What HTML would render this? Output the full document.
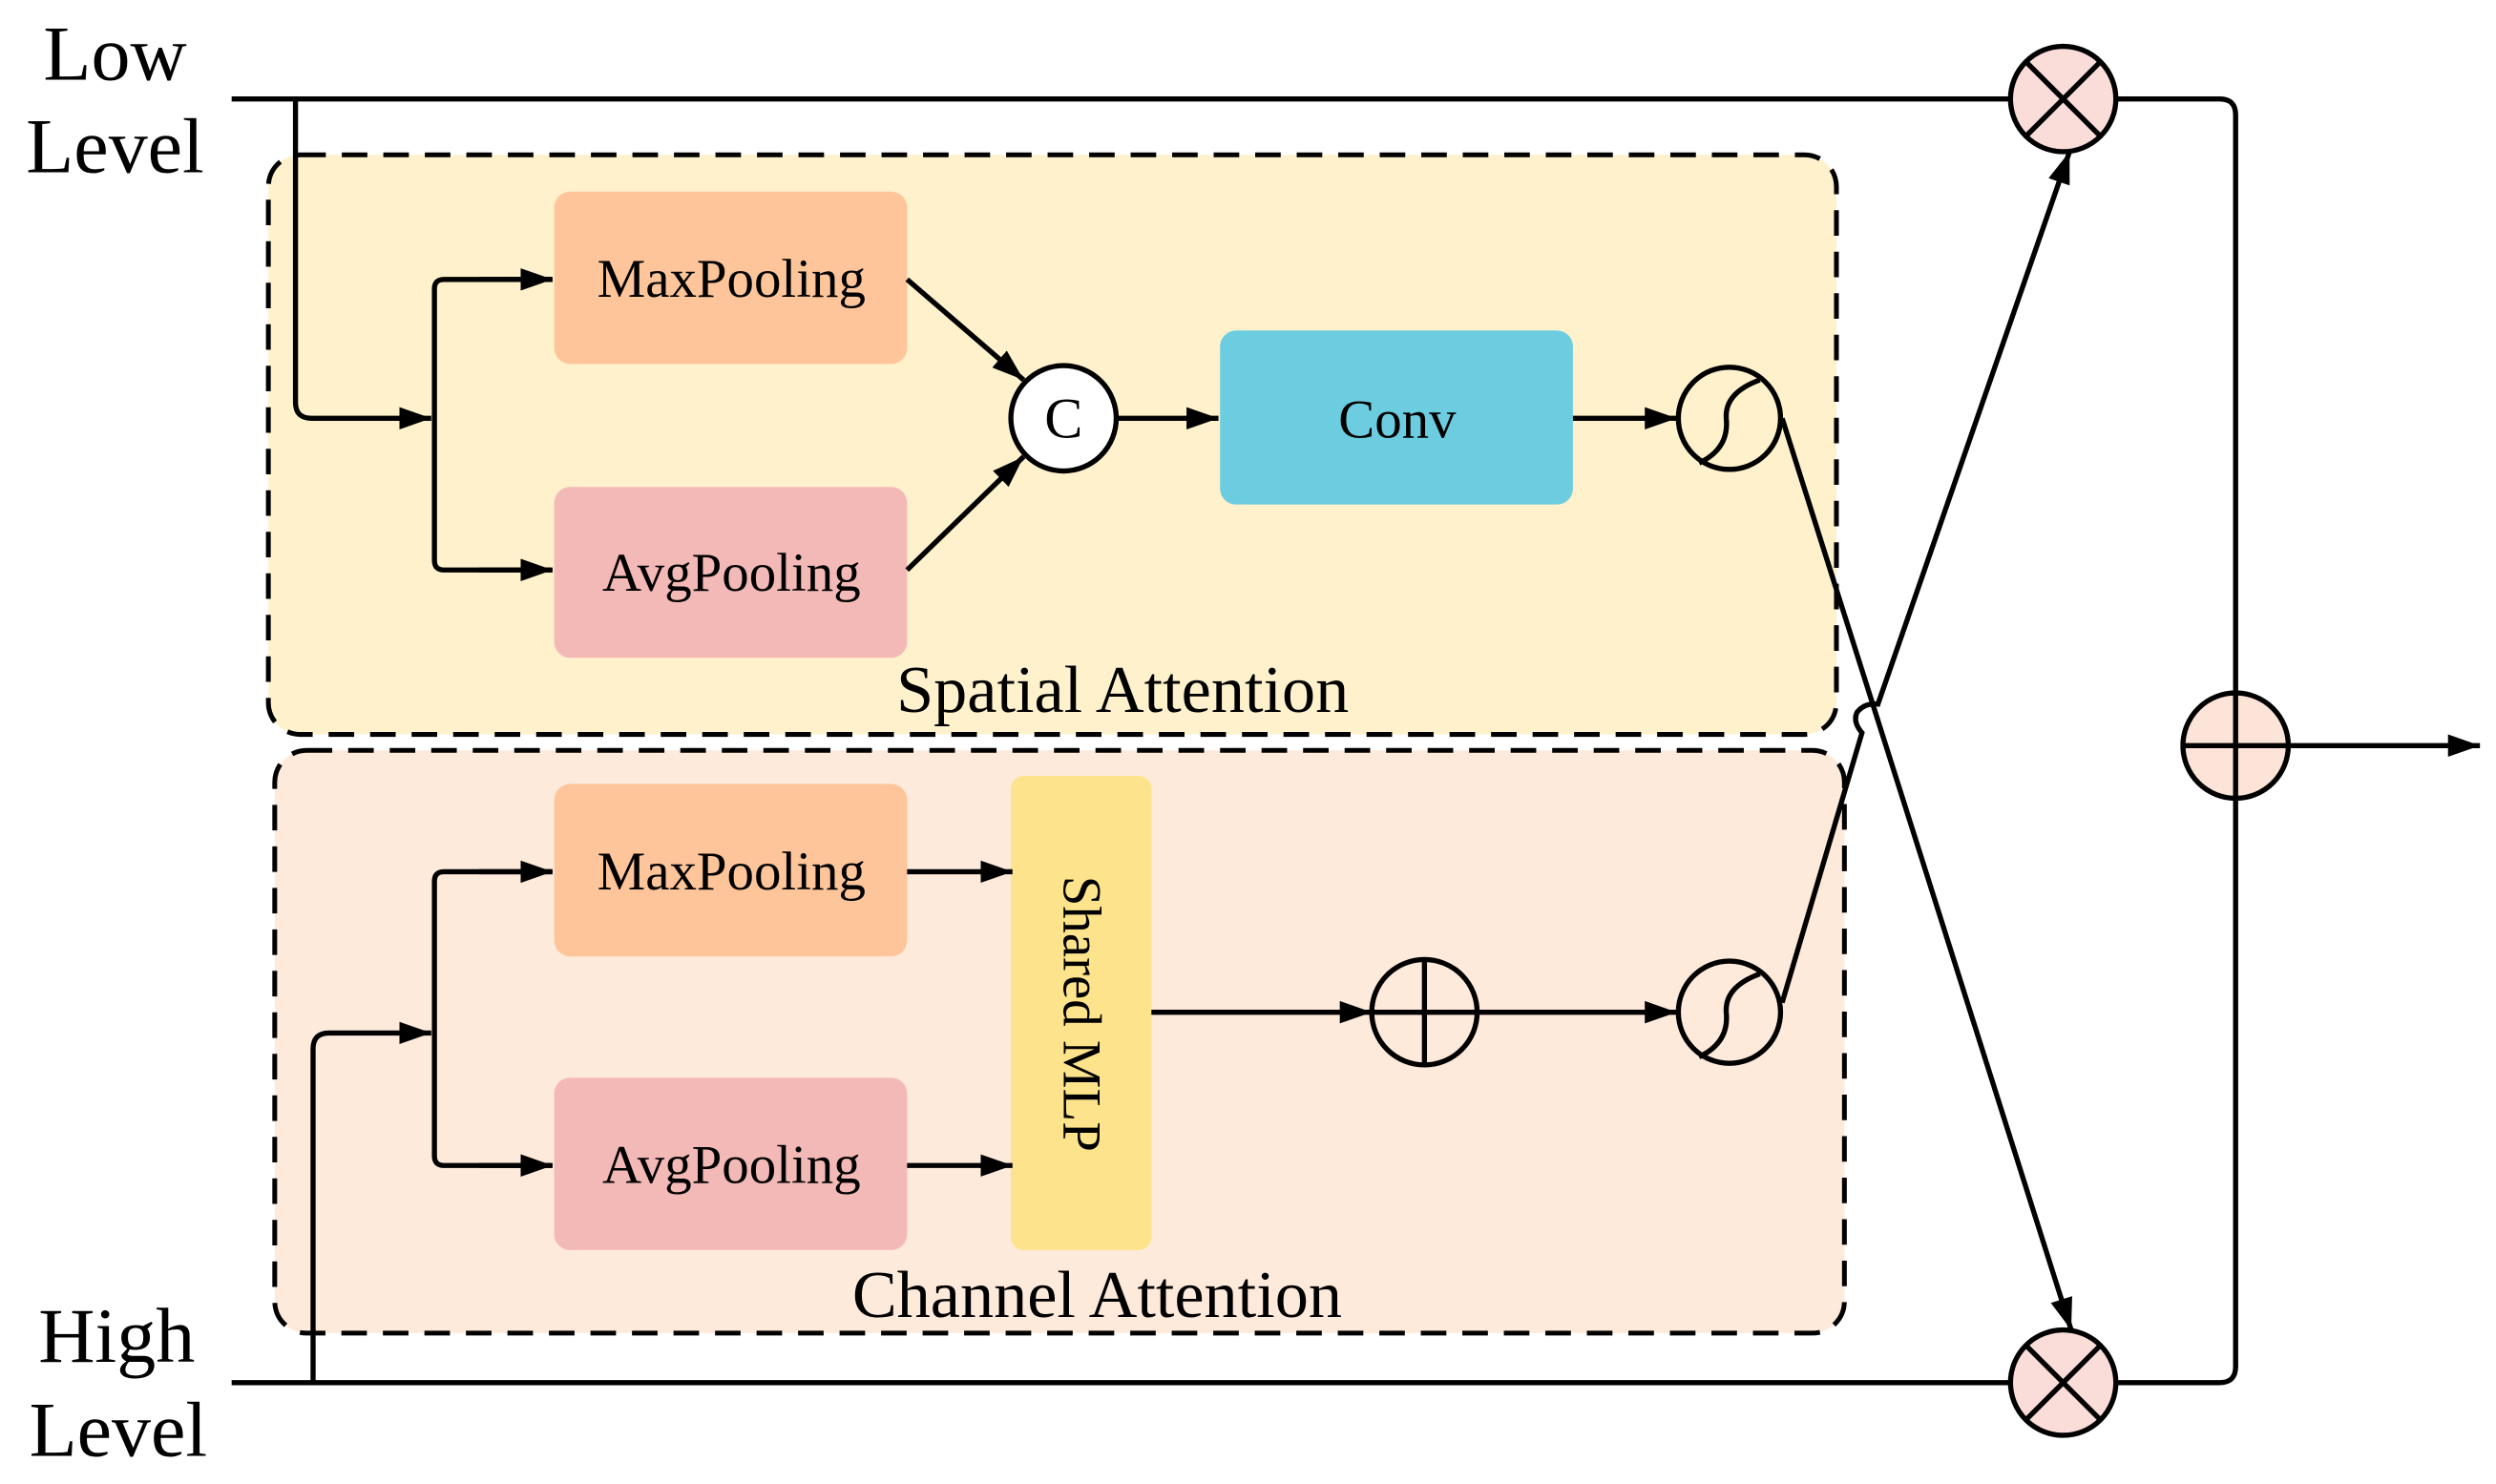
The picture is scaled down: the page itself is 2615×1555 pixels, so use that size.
<!DOCTYPE html>
<html><head><style>html,body{margin:0;padding:0;background:#fff}svg{display:block}</style></head>
<body>
<svg width="2615" height="1555" viewBox="0 0 1563 929.5" xmlns="http://www.w3.org/2000/svg" font-family="Liberation Serif, serif">
<defs>
<marker id="b" viewBox="0 0 10 10" refX="10" refY="5" markerWidth="20" markerHeight="20" markerUnits="userSpaceOnUse" orient="auto">
<path d="M0,1.5 L10,5 L0,8.5 z" fill="#000"/></marker>
</defs>
<rect x="168" y="97" width="982" height="363" rx="20" fill="#fef1cc" stroke="#000" stroke-width="3" stroke-dasharray="16,10"/>
<rect x="172" y="470" width="983" height="365" rx="20" fill="#feeadb" stroke="#000" stroke-width="3" stroke-dasharray="16,10"/>
<rect x="347" y="120" width="221" height="108" rx="10" fill="#fec59a"/>
<rect x="347" y="305" width="221" height="107" rx="10" fill="#f3b9b6"/>
<rect x="764" y="207" width="221" height="109" rx="10" fill="#6dcde0"/>
<rect x="347" y="491" width="221" height="108" rx="10" fill="#fec59a"/>
<rect x="347" y="675" width="221" height="108" rx="10" fill="#f3b9b6"/>
<rect x="633" y="486" width="88" height="297" rx="8" fill="#fde48c"/>
<g font-size="34" text-anchor="middle" fill="#000">
<text x="458" y="186">MaxPooling</text>
<text x="458" y="370">AvgPooling</text>
<text x="875" y="274">Conv</text>
<text x="458" y="557">MaxPooling</text>
<text x="458" y="741">AvgPooling</text>
<text transform="translate(666,635) rotate(90)" text-anchor="middle">Shared MLP</text>
</g>
<g font-size="42" text-anchor="middle">
<text x="703" y="446">Spatial Attention</text>
<text x="687" y="825">Channel Attention</text>
</g>
<g font-size="49" text-anchor="middle">
<text x="72" y="50">Low</text>
<text x="72" y="108">Level</text>
<text x="73" y="853">High</text>
<text x="74" y="912">Level</text>
</g>
<g stroke="#000" stroke-width="3.2" fill="none">
<path d="M145,62 H1390 Q1400,62 1400,72 V856 Q1400,866 1390,866 H145"/>
<line x1="1433" y1="467" x2="1553" y2="467" marker-end="url(#b)"/>
<path d="M185,62 V252 Q185,262 195,262 H270" marker-end="url(#b)"/>
<path d="M345,175 H278 Q272,175 272,181 V351 Q272,357 278,357 H345" />
<line x1="300" y1="175" x2="346" y2="175" marker-end="url(#b)"/>
<line x1="300" y1="357" x2="346" y2="357" marker-end="url(#b)"/>
<line x1="568" y1="175" x2="641" y2="238" marker-end="url(#b)"/>
<line x1="568" y1="357" x2="641" y2="286" marker-end="url(#b)"/>
<line x1="700" y1="262" x2="763" y2="262" marker-end="url(#b)"/>
<line x1="985" y1="262" x2="1050" y2="262" marker-end="url(#b)"/>
<path d="M196,866 V657 Q196,647 206,647 H270" marker-end="url(#b)"/>
<path d="M345,546 H278 Q272,546 272,552 V724 Q272,730 278,730 H345"/>
<line x1="300" y1="546" x2="346" y2="546" marker-end="url(#b)"/>
<line x1="300" y1="730" x2="346" y2="730" marker-end="url(#b)"/>
<line x1="568" y1="546" x2="634" y2="546" marker-end="url(#b)"/>
<line x1="568" y1="730" x2="634" y2="730" marker-end="url(#b)"/>
<line x1="721" y1="634" x2="859" y2="634" marker-end="url(#b)"/>
<line x1="925" y1="634" x2="1050" y2="634" marker-end="url(#b)"/>
<line x1="1116" y1="262" x2="1297" y2="833" marker-end="url(#b)"/>
<path d="M1116,628 L1166,459 Q1160,452 1163,446 Q1168,440 1176,441 L1296,95" marker-end="url(#b)"/>
</g>
<g stroke="#000" stroke-width="3.2">
<circle cx="666" cy="262" r="33" fill="#fff"/>
<circle cx="1083" cy="262" r="32" fill="none"/>
<circle cx="1083" cy="634" r="32" fill="none"/>
<circle cx="892" cy="634" r="33" fill="none"/>
<line x1="892" y1="601" x2="892" y2="667"/>
<line x1="859" y1="634" x2="925" y2="634"/>
<circle cx="1400" cy="467" r="33" fill="#fde4d8"/>
<line x1="1400" y1="434" x2="1400" y2="500"/>
<line x1="1367" y1="467" x2="1433" y2="467"/>
<circle cx="1292" cy="62" r="33" fill="#fadcd9"/>
<line x1="1269" y1="39" x2="1315" y2="85"/>
<line x1="1315" y1="39" x2="1269" y2="85"/>
<circle cx="1292" cy="866" r="33" fill="#fadcd9"/>
<line x1="1269" y1="843" x2="1315" y2="889"/>
<line x1="1315" y1="843" x2="1269" y2="889"/>
<path d="M1102,238 Q1080,246 1081,262 Q1083,281 1064,290" fill="none"/>
<path d="M1102,610 Q1080,618 1081,634 Q1083,653 1064,662" fill="none"/>
</g>
<text x="666" y="274" font-size="36" text-anchor="middle">C</text>
</svg>
</body></html>
